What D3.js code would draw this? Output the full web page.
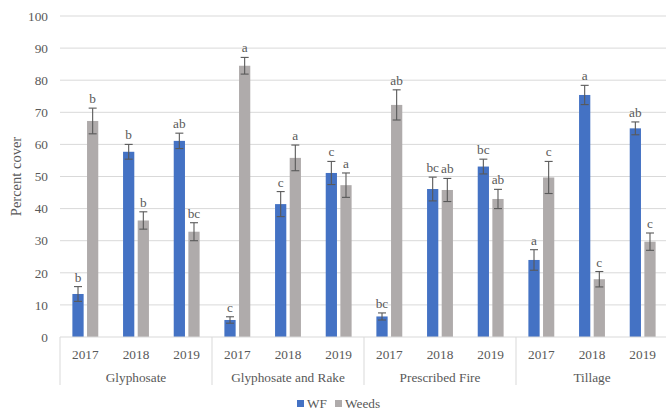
<!DOCTYPE html>
<html>
<head>
<meta charset="utf-8">
<script src="https://cdn.jsdelivr.net/npm/d3@7"></script>
<style>
  html, body { margin: 0; padding: 0; background: #fff; }
</style>
</head>
<body>
<svg id="chart" width="666" height="412"></svg>
<script>
// Treatments and years on the two-level category axis
const treatments = ["Glyphosate", "Glyphosate and Rake", "Prescribed Fire", "Tillage"];
const years = ["2017", "2018", "2019"];
const seriesNames = ["WF", "Weeds"];

// Mean percent cover, one entry per treatment-year (treatment-major order)
const wfMean    = [13.4, 57.7, 61.1,  5.3, 41.4, 51.1,  6.4, 46.1, 53.1, 24.0, 75.4, 65.0];
const weedsMean = [67.3, 36.3, 32.8, 84.5, 55.8, 47.3, 72.3, 45.8, 43.0, 49.7, 18.0, 29.7];

// Standard errors
const wfErr    = [2.3, 2.3, 2.4, 1.0, 3.9, 3.6, 1.1, 3.7, 2.3, 3.2, 3.0, 2.0];
const weedsErr = [4.0, 2.7, 2.8, 2.6, 4.0, 3.8, 4.7, 3.6, 3.0, 5.0, 2.4, 2.7];

// Mean separation letters
const wfLetters    = ["b", "b", "ab", "c", "c", "c", "bc", "bc", "bc", "a", "a", "ab"];
const weedsLetters = ["b", "b", "bc", "a", "a", "a", "ab", "ab", "ab", "c", "c", "c"];

const yTicks = [0, 10, 20, 30, 40, 50, 60, 70, 80, 90, 100];

const colors = { WF: "#4472C4", Weeds: "#AFABAB" };
const FONT = "'Liberation Serif', 'Times New Roman', Tinos, 'DejaVu Serif', serif";
const TEXT_COLOR = "#595959";

const svg = d3.select("#chart");
const margin = { left: 60, right: -2, top: 16, bottom: 75 };
const W = 666, H = 412;
const plotBottom = H - margin.bottom;

const cats = [];
treatments.forEach((t, ti) => years.forEach((yr, yi) => cats.push({ key: t + "|" + yr, t, yr, ti })));

const x = d3.scaleBand()
  .domain(cats.map(d => d.key))
  .range([margin.left, W - margin.right])
  .paddingInner(0).paddingOuter(0);

const y = d3.scaleLinear().domain([0, 100]).range([plotBottom, margin.top]);

const bw = x.bandwidth();
const barW = bw * 0.222;
const barGap = bw * 0.067;
const capHalf = 4;

function styleText(sel, size) {
  return sel.style("font-family", FONT).style("font-size", size + "px").style("fill", TEXT_COLOR);
}

// Horizontal gridlines
svg.append("g").selectAll("line").data(yTicks.filter(v => v > 0)).join("line")
  .attr("x1", margin.left).attr("x2", W)
  .attr("y1", d => y(d)).attr("y2", d => y(d))
  .attr("stroke", "#D9D9D9").attr("stroke-width", 1);

// Y axis tick labels
const yAxis = d3.axisLeft(y).tickValues(yTicks).tickSize(0).tickPadding(12);
const gy = svg.append("g").attr("transform", `translate(${margin.left},0)`).call(yAxis);
gy.select(".domain").remove();
styleText(gy.selectAll("text"), 13.3);

// Y axis title
styleText(svg.append("text")
  .attr("transform", `translate(21,${(margin.top + plotBottom) / 2}) rotate(-90)`)
  .attr("text-anchor", "middle")
  .text("Percent cover"), 14.5);

// Bars, error bars and letters for each series
const series = [
  { name: "WF", mean: wfMean, err: wfErr, letters: wfLetters, offset: -(barGap / 2 + barW) },
  { name: "Weeds", mean: weedsMean, err: weedsErr, letters: weedsLetters, offset: barGap / 2 }
];

series.forEach(s => {
  const data = cats.map((c, i) => ({ key: c.key, v: s.mean[i], e: s.err[i], l: s.letters[i] }));
  const g = svg.append("g");
  const cx = d => x(d.key) + bw / 2 + s.offset;
  g.selectAll("rect").data(data).join("rect")
    .attr("x", cx).attr("width", barW)
    .attr("y", d => y(d.v)).attr("height", d => plotBottom - y(d.v))
    .attr("fill", colors[s.name]);
  const mid = d => cx(d) + barW / 2;
  const eb = g.append("g").attr("stroke", "#595959").attr("stroke-width", 1.1);
  eb.selectAll("line.v").data(data).join("line").attr("class", "v")
    .attr("x1", mid).attr("x2", mid)
    .attr("y1", d => y(d.v + d.e)).attr("y2", d => y(d.v - d.e));
  eb.selectAll("line.t").data(data).join("line").attr("class", "t")
    .attr("x1", d => mid(d) - capHalf).attr("x2", d => mid(d) + capHalf)
    .attr("y1", d => y(d.v + d.e)).attr("y2", d => y(d.v + d.e));
  eb.selectAll("line.b").data(data).join("line").attr("class", "b")
    .attr("x1", d => mid(d) - capHalf).attr("x2", d => mid(d) + capHalf)
    .attr("y1", d => y(d.v - d.e)).attr("y2", d => y(d.v - d.e));
  styleText(g.selectAll("text").data(data).join("text")
    .attr("x", mid).attr("y", d => y(d.v + d.e) - 5)
    .attr("text-anchor", "middle")
    .text(d => d.l), 13.3);
});

// Category axis baseline
svg.append("line")
  .attr("x1", margin.left).attr("x2", W)
  .attr("y1", plotBottom).attr("y2", plotBottom)
  .attr("stroke", "#D9D9D9").attr("stroke-width", 1);

// Year labels
styleText(svg.append("g").selectAll("text").data(cats).join("text")
  .attr("x", d => x(d.key) + bw / 2).attr("y", plotBottom + 22)
  .attr("text-anchor", "middle")
  .text(d => d.yr), 13.3);

// Group separators and treatment labels
const groupW = bw * years.length;
svg.append("g").selectAll("line").data(d3.range(treatments.length + 1)).join("line")
  .attr("x1", i => margin.left + i * groupW).attr("x2", i => margin.left + i * groupW)
  .attr("y1", plotBottom).attr("y2", plotBottom + 48)
  .attr("stroke", "#D9D9D9").attr("stroke-width", 1);
styleText(svg.append("g").selectAll("text").data(treatments).join("text")
  .attr("x", (t, i) => margin.left + (i + 0.5) * groupW).attr("y", plotBottom + 45)
  .attr("text-anchor", "middle")
  .text(t => t), 13.3);

// Legend
const legend = svg.append("g");
const legendItems = [{ name: "WF", x: 297 }, { name: "Weeds", x: 335 }];
legendItems.forEach(it => {
  legend.append("rect").attr("x", it.x).attr("y", 400).attr("width", 7).attr("height", 7).attr("fill", colors[it.name]);
  styleText(legend.append("text").attr("x", it.x + 10).attr("y", 408).text(it.name), 13.3);
});
</script>
</body>
</html>
